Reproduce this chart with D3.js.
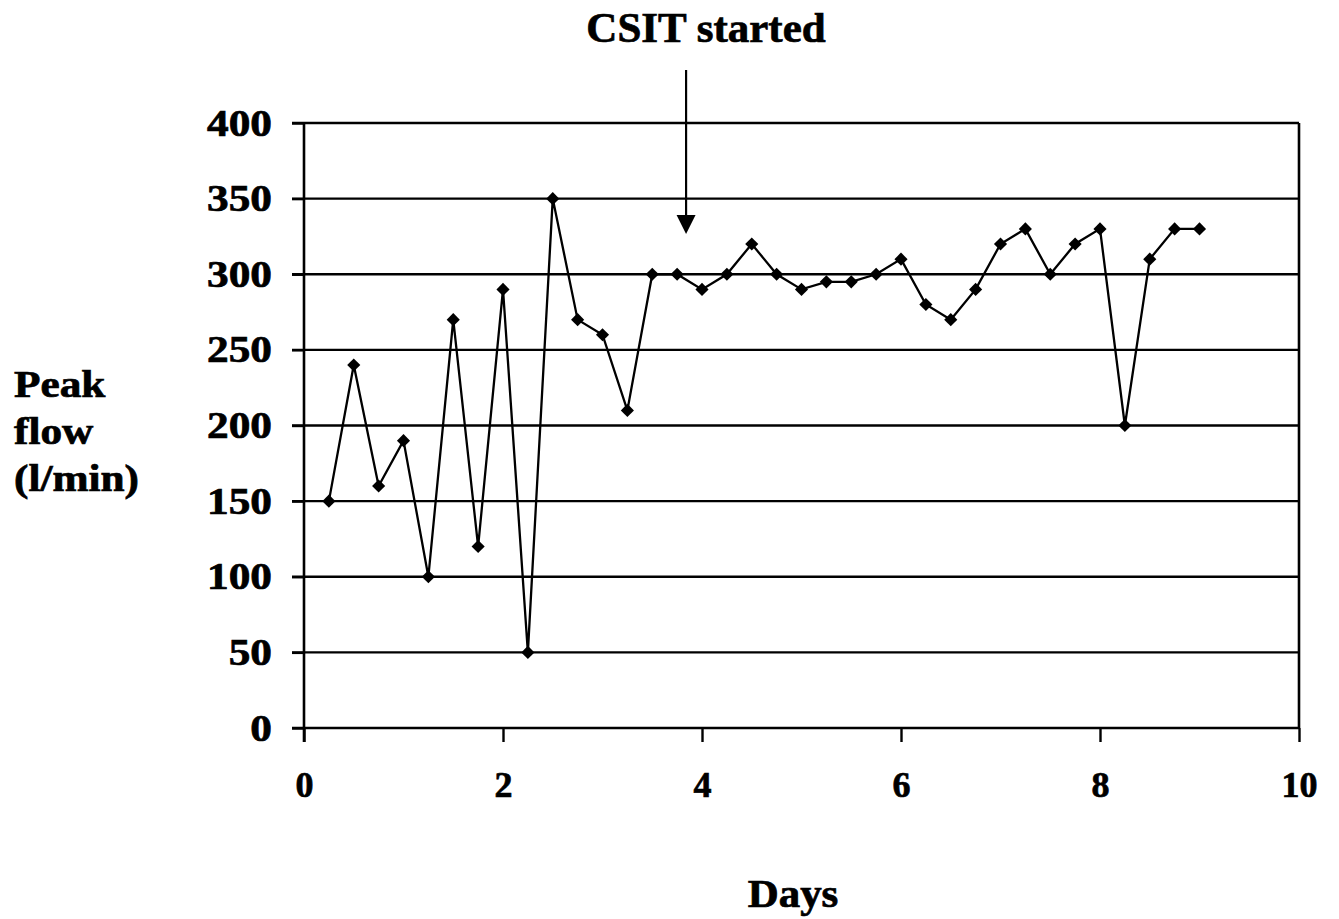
<!DOCTYPE html>
<html>
<head>
<meta charset="utf-8">
<script src="https://cdn.jsdelivr.net/npm/d3@7"></script>
<style>
  body { margin: 0; background: #fff; }
  text { font-family: "Liberation Serif", "Times New Roman", serif; font-weight: bold; fill: #000; stroke: #000; stroke-width: 0.7px; }
</style>
</head>
<body>
<svg id="chart" width="1339" height="919"></svg>
<script>
// peak flow readings, every quarter day
const days = [0.25, 0.5, 0.75, 1, 1.25, 1.5, 1.75, 2, 2.25, 2.5, 2.75, 3, 3.25, 3.5, 3.75, 4,
  4.25, 4.5, 4.75, 5, 5.25, 5.5, 5.75, 6, 6.25, 6.5, 6.75, 7, 7.25, 7.5, 7.75, 8, 8.25, 8.5, 8.75, 9]
const peakFlow = [150, 240, 160, 190, 100, 270, 120, 290, 50, 350, 270, 260, 210, 300, 300, 290,
  300, 320, 300, 290, 295, 295, 300, 310, 280, 270, 290, 320, 330, 300, 320, 330, 200, 310, 330, 330]
const xTicks = [0, 2, 4, 6, 8, 10]
const yTicks = [0, 50, 100, 150, 200, 250, 300, 350, 400]
const csitDay = 3.84
const yTitle = ['Peak', 'flow', '(l/min)']

const svg = d3.select('#chart')
const x = d3.scaleLinear().domain([0, 10]).range([304, 1299])
const y = d3.scaleLinear().domain([0, 400]).range([728, 123])

// horizontal grid lines
svg.append('g')
  .selectAll('line')
  .data(yTicks.filter(d => d > 0))
  .enter()
  .append('line')
  .attr('x1', 292)
  .attr('x2', x(10))
  .attr('y1', d => y(d))
  .attr('y2', d => y(d))
  .attr('stroke', '#000')
  .attr('stroke-width', 2.4)

// y axis
const yAxis = svg.append('g')
  .attr('transform', `translate(${x(0)},0)`)
  .call(d3.axisLeft(y).tickValues(yTicks).tickSize(12).tickFormat(d3.format('d')))
yAxis.select('.domain').attr('stroke-width', 2.6).attr('d', `M0,${y(400)}V742`)
yAxis.selectAll('.tick line').attr('stroke-width', 2.4)
yAxis.selectAll('.tick text')
  .attr('x', null)
  .attr('dy', null)
  .attr('font-size', 37)
  .attr('font-family', null)
  .attr('text-anchor', 'end')
  .attr('transform', 'translate(-32,12) scale(1.17,1)')

// x axis
const xAxis = svg.append('g')
  .attr('transform', `translate(0,${y(0)})`)
  .call(d3.axisBottom(x).tickValues(xTicks).tickSize(14).tickFormat(d3.format('d')))
xAxis.select('.domain').attr('stroke-width', 2.6).attr('d', `M292,0H${x(10)}`)
xAxis.selectAll('.tick line').attr('stroke-width', 2.4)
xAxis.selectAll('.tick text')
  .attr('y', 69)
  .attr('dy', null)
  .attr('font-size', 36)
  .attr('font-family', null)

// right border of the plot
svg.append('line')
  .attr('x1', x(10)).attr('x2', x(10))
  .attr('y1', y(400)).attr('y2', y(0))
  .attr('stroke', '#000')
  .attr('stroke-width', 2.6)

// series
const pts = days.map((d, i) => [d, peakFlow[i]])
svg.append('path')
  .datum(pts)
  .attr('fill', 'none')
  .attr('stroke', '#000')
  .attr('stroke-width', 2.3)
  .attr('d', d3.line().x(d => x(d[0])).y(d => y(d[1])))

svg.append('g')
  .selectAll('path')
  .data(pts)
  .enter()
  .append('path')
  .attr('transform', d => `translate(${x(d[0])},${y(d[1])})`)
  .attr('d', d3.symbol(d3.symbolDiamond2, 110)())
  .attr('fill', '#000')

// annotation arrow
const ax = x(csitDay)
svg.append('line')
  .attr('x1', ax).attr('x2', ax)
  .attr('y1', 70).attr('y2', 218)
  .attr('stroke', '#000')
  .attr('stroke-width', 2.2)
svg.append('path')
  .attr('d', `M${ax - 9.5},215L${ax + 9.5},215L${ax},234Z`)
  .attr('fill', '#000')

svg.append('text')
  .attr('x', 706)
  .attr('y', 42)
  .attr('text-anchor', 'middle')
  .attr('font-size', 43)
  .text('CSIT started')

svg.append('text')
  .attr('text-anchor', 'middle')
  .attr('font-size', 39)
  .attr('transform', 'translate(793,907) scale(1.1,1)')
  .text('Days')

svg.append('g')
  .selectAll('text')
  .data(yTitle)
  .enter()
  .append('text')
  .attr('font-size', 37)
  .attr('transform', (d, i) => `translate(14,${397 + i * 47}) scale(1.17,1)`)
  .text(d => d)
</script>
</body>
</html>
